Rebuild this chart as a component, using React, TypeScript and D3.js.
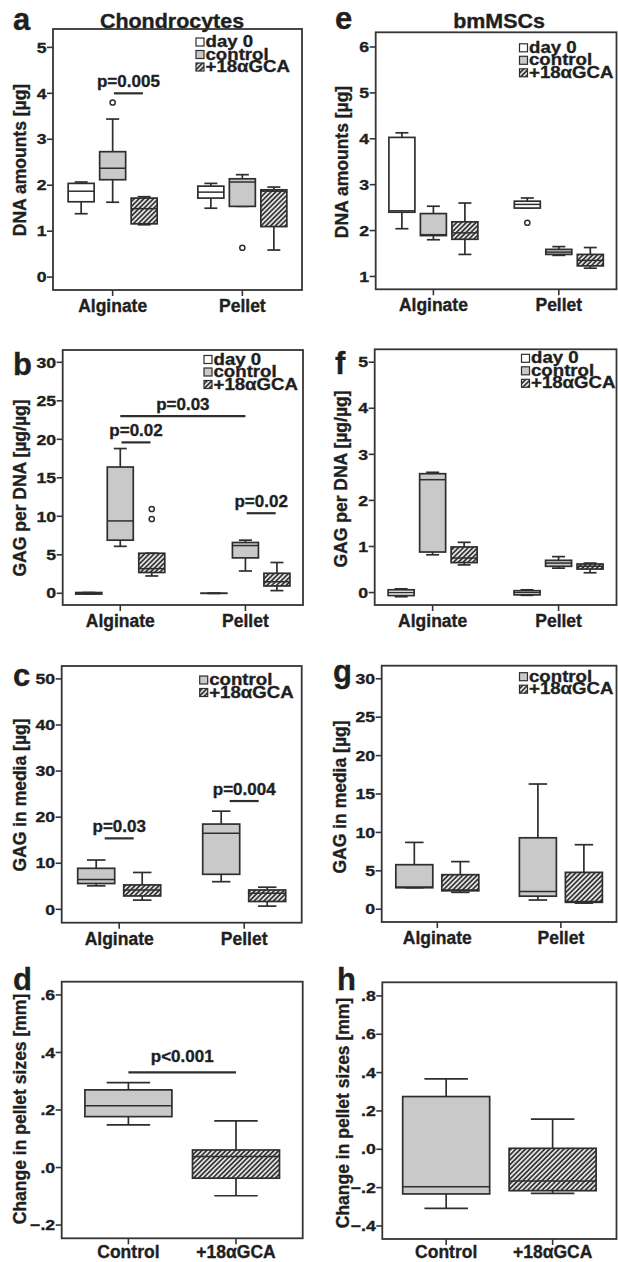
import React from "react";
import * as d3 from "d3";

const groups = ["Alginate", "Pellet"];
const conditions = ["Control", "+18αGCA"];
const series3 = ["day 0", "control", "+18αGCA"];
const series2 = ["control", "+18αGCA"];

// box stats: [lower whisker, q1, median, q3, upper whisker]
const dnaChondro = [
  { group: "Alginate", series: "day 0", stats: [1.38, 1.64, 1.87, 2.04, 2.07], out: [] },
  { group: "Alginate", series: "control", stats: [1.63, 2.12, 2.37, 2.73, 3.44], out: [3.8] },
  { group: "Alginate", series: "+18αGCA", stats: [1.14, 1.16, 1.49, 1.72, 1.75], out: [] },
  { group: "Pellet", series: "day 0", stats: [1.5, 1.72, 1.85, 1.98, 2.04], out: [] },
  { group: "Pellet", series: "control", stats: [1.54, 1.54, 2.07, 2.14, 2.23], out: [0.64] },
  { group: "Pellet", series: "+18αGCA", stats: [0.59, 1.1, 1.87, 1.9, 1.96], out: [] },
];

const gagDnaChondro = [
  { group: "Alginate", series: "day 0", stats: [-0.1, -0.1, 0, 0.1, 0.1], out: [] },
  { group: "Alginate", series: "control", stats: [6.1, 6.9, 9.4, 16.4, 18.8], out: [] },
  { group: "Alginate", series: "+18αGCA", stats: [2.25, 2.7, 3.2, 5.2, 5.2], out: [9.65, 10.95] },
  { group: "Pellet", series: "day 0", stats: [0, 0, 0, 0, 0], out: [] },
  { group: "Pellet", series: "control", stats: [2.9, 4.6, 6.2, 6.6, 6.9], out: [] },
  { group: "Pellet", series: "+18αGCA", stats: [0.35, 0.95, 1.5, 2.6, 4.0], out: [] },
];

const gagMediaChondro = [
  { group: "Alginate", series: "control", stats: [5.1, 5.6, 6.5, 8.9, 10.7], out: [] },
  { group: "Alginate", series: "+18αGCA", stats: [2.0, 2.9, 4.2, 5.3, 8.0], out: [] },
  { group: "Pellet", series: "control", stats: [6.0, 7.6, 16.5, 18.5, 21.3], out: [] },
  { group: "Pellet", series: "+18αGCA", stats: [0.7, 1.7, 3.5, 4.2, 4.8], out: [] },
];

const sizeChondro = [
  { group: "Control", series: null, stats: [0.148, 0.177, 0.215, 0.27, 0.295], out: [] },
  { group: "+18αGCA", series: null, stats: [-0.098, -0.037, 0.038, 0.061, 0.162], out: [] },
];

const dnaMsc = [
  { group: "Alginate", series: "day 0", stats: [2.04, 2.4, 2.43, 4.03, 4.13], out: [] },
  { group: "Alginate", series: "control", stats: [1.8, 1.89, 1.91, 2.37, 2.53], out: [] },
  { group: "Alginate", series: "+18αGCA", stats: [1.48, 1.81, 1.95, 2.19, 2.6], out: [] },
  { group: "Pellet", series: "day 0", stats: [2.49, 2.49, 2.57, 2.64, 2.71], out: [2.17] },
  { group: "Pellet", series: "control", stats: [1.46, 1.48, 1.53, 1.59, 1.65], out: [] },
  { group: "Pellet", series: "+18αGCA", stats: [1.18, 1.23, 1.35, 1.48, 1.63], out: [] },
];

const gagDnaMsc = [
  { group: "Alginate", series: "day 0", stats: [-0.09, -0.065, 0, 0.06, 0.08], out: [] },
  { group: "Alginate", series: "control", stats: [0.82, 0.88, 2.45, 2.58, 2.61], out: [] },
  { group: "Alginate", series: "+18αGCA", stats: [0.6, 0.65, 0.75, 0.99, 1.09], out: [] },
  { group: "Pellet", series: "day 0", stats: [-0.06, -0.05, 0, 0.04, 0.06], out: [] },
  { group: "Pellet", series: "control", stats: [0.53, 0.57, 0.64, 0.7, 0.78], out: [] },
  { group: "Pellet", series: "+18αGCA", stats: [0.43, 0.51, 0.57, 0.62, 0.64], out: [] },
];

const gagMediaMsc = [
  { group: "Alginate", series: "control", stats: [2.8, 2.8, 2.9, 5.8, 8.7], out: [] },
  { group: "Alginate", series: "+18αGCA", stats: [2.2, 2.4, 2.5, 4.5, 6.2], out: [] },
  { group: "Pellet", series: "control", stats: [1.2, 1.7, 2.3, 9.3, 16.3], out: [] },
  { group: "Pellet", series: "+18αGCA", stats: [0.8, 0.9, 1.0, 4.8, 8.4], out: [] },
];

const sizeMsc = [
  { group: "Control", series: null, stats: [-0.308, -0.233, -0.195, 0.275, 0.367], out: [] },
  { group: "+18αGCA", series: null, stats: [-0.23, -0.216, -0.165, 0.005, 0.157], out: [] },
];

const ticks0to5 = [0, 1, 2, 3, 4, 5];
const ticks0to30 = [0, 5, 10, 15, 20, 25, 30];
const ticks0to50 = [0, 10, 20, 30, 40, 50];
const ticks1to6 = [1, 2, 3, 4, 5, 6];
const ticksSizeChondro = [-0.2, 0, 0.2, 0.4, 0.6];
const ticksSizeMsc = [-0.4, -0.2, 0, 0.2, 0.4, 0.6, 0.8];

// significance bars
const sigDnaChondro = [
  { text: "p=0.005", from: ["Alginate", "control"], to: ["Alginate", "+18αGCA"], value: 4.0, kind: "short" },
];
const sigGagDnaChondro = [
  { text: "p=0.03", from: ["Alginate", null], to: ["Pellet", null], value: 23.0, kind: "long" },
  { text: "p=0.02", from: ["Alginate", "control"], to: ["Alginate", "+18αGCA"], value: 19.6, kind: "short" },
  { text: "p=0.02", from: ["Pellet", "control"], to: ["Pellet", "+18αGCA"], value: 10.4, kind: "short" },
];
const sigGagMediaChondro = [
  { text: "p=0.03", from: ["Alginate", "control"], to: ["Alginate", "+18αGCA"], value: 15.4, kind: "short" },
  { text: "p=0.004", from: ["Pellet", "control"], to: ["Pellet", "+18αGCA"], value: 23.5, kind: "short" },
];
const sigSizeChondro = [
  { text: "p<0.001", from: ["Control", null], to: ["+18αGCA", null], value: 0.331, kind: "long" },
];

const FONT = "'Liberation Sans', Arial, Helvetica, sans-serif";
const INK = "#1f1f1f";
const LINE = "#2e2e2e";
const GRAY = "#c9c9c9";

const panels = [
  { letter: "a", letterPos: [13, 29.5], data: dnaChondro, cats: groups, series: series3, frame: [53, 29, 302, 290], pad: 0.46, domain: [-0.28, 5.4], ticks: ticks0to5, yLabel: "DNA amounts [µg]", labelX: 26, labelCy: 160, legendDx: 106, legendDy: 18, sig: sigDnaChondro },
  { letter: "b", letterPos: [13, 375], data: gagDnaChondro, cats: groups, series: series3, frame: [62.7, 350, 303, 605], pad: 0.46, domain: [-1.52, 31.6], ticks: ticks0to30, yLabel: "GAG per DNA [µg/µg]", labelX: 25.5, labelCy: 488, legendDx: 99, legendDy: 14.5, sig: sigGagDnaChondro },
  { letter: "c", letterPos: [13, 686], data: gagMediaChondro, cats: groups, series: series2, frame: [61.7, 666, 301.7, 922.7], pad: 0.46, domain: [-2.9, 52.8], ticks: ticks0to50, yLabel: "GAG in media [µg]", labelX: 25.5, labelCy: 795, legendDx: 102, legendDy: 19, sig: sigGagMediaChondro },
  { letter: "d", letterPos: [13, 990], data: sizeChondro, cats: conditions, series: null, frame: [61.7, 981.7, 302.7, 1238.3], pad: 0.62, domain: [-0.246, 0.646], ticks: ticksSizeChondro, yLabel: "Change in pellet sizes [mm]", labelX: 25.5, labelCy: 1109, sig: sigSizeChondro, sigGap: 10, catGap: 19.5 },
  { letter: "e", letterPos: [335, 28.5], data: dnaMsc, cats: groups, series: series3, frame: [375.7, 32.3, 616.5, 289.3], pad: 0.46, domain: [0.72, 6.32], ticks: ticks1to6, yLabel: "DNA amounts [µg]", labelX: 348, labelCy: 162, legendDx: 97, legendDy: 20.5, sig: [] },
  { letter: "f", letterPos: [335, 373.5], data: gagDnaMsc, cats: groups, series: series3, frame: [374.7, 349.3, 616.5, 605], pad: 0.46, domain: [-0.27, 5.28], ticks: ticks0to5, yLabel: "GAG per DNA [µg/µg]", labelX: 347, labelCy: 479, legendDx: 95, legendDy: 14, sig: [] },
  { letter: "g", letterPos: [333, 682], data: gagMediaMsc, cats: groups, series: series2, frame: [381.7, 665.7, 616.5, 922], pad: 0.45, domain: [-1.66, 31.7], ticks: ticks0to30, yLabel: "GAG in media [µg]", labelX: 346, labelCy: 797, legendDx: 97, legendDy: 16, sig: [] },
  { letter: "h", letterPos: [337, 990], data: sizeMsc, cats: conditions, series: null, frame: [382.3, 982.3, 616.5, 1239], pad: 0.6, domain: [-0.468, 0.871], ticks: ticksSizeMsc, yLabel: "Change in pellet sizes  [mm]", labelX: 349, labelCy: 1113, sig: [], catGap: 18.5 },
];

const fillFor = (key) => {
  if (key === "day 0") return "#fff";
  if (key === "control" || key === "Control") return GRAY;
  return "url(#hatch)";
};

// ".6", ".0", "-.2" style labels for fractional axes
const fmtTick = (v) => {
  if (Number.isInteger(v) && v !== 0) return String(v);
  return d3.format(".1f")(v).replace("0.", ".");
};

function T({ x, y, size, sx = 1, anchor = "start", rotate = 0, children }) {
  return (
    <text
      transform={`translate(${x},${y}) rotate(${rotate}) scale(${sx},1)`}
      fontFamily={FONT}
      fontWeight="bold"
      fontSize={size}
      textAnchor={anchor}
      fill={INK}
      stroke={INK}
      strokeWidth={0.35}
    >
      {children}
    </text>
  );
}

function Panel({ p }) {
  const [x0, y0, x1, y1] = p.frame;
  const x = d3.scalePoint().domain(p.cats).range([x0, x1]).padding(p.pad);
  const spread = p.series && p.series.length === 3 ? 31.5 : 23;
  const s = d3.scalePoint().domain(p.series || [""]).range(p.series ? [-spread, spread] : [0, 0]);
  const bw = !p.series ? 87 : p.series.length === 3 ? 26 : 37;
  const y = d3.scaleLinear().domain(p.domain).range([y1, y0]);
  const isInt = p.ticks.every((t) => Number.isInteger(t));
  const cx = (g, ser) => x(g) + (ser ? s(ser) : 0);

  return (
    <g>
      {/* boxes */}
      {p.data.map((d, i) => {
        const c = cx(d.group, d.series);
        const [lo, q1, med, q3, hi] = d.stats;
        const cap = bw * 0.5;
        const key = d.series || d.group;
        return (
          <g key={i} stroke={LINE} strokeWidth={1.7}>
            <line x1={c} x2={c} y1={y(hi)} y2={y(q3)} />
            <line x1={c} x2={c} y1={y(q1)} y2={y(lo)} />
            <line x1={c - cap / 2} x2={c + cap / 2} y1={y(hi)} y2={y(hi)} />
            <line x1={c - cap / 2} x2={c + cap / 2} y1={y(lo)} y2={y(lo)} />
            <rect x={c - bw / 2} y={y(q3)} width={bw} height={Math.max(0.01, y(q1) - y(q3))} fill={fillFor(key)} />
            <line x1={c - bw / 2} x2={c + bw / 2} y1={y(med)} y2={y(med)} strokeWidth={1.5} />
            {d.out.map((o, j) => (
              <circle key={j} cx={c} cy={y(o)} r={2.6} fill="#fff" strokeWidth={1.5} />
            ))}
          </g>
        );
      })}

      {/* frame */}
      <rect x={x0} y={y0} width={x1 - x0} height={y1 - y0} fill="none" stroke="#353535" strokeWidth={1.8} />

      {/* y axis */}
      {p.ticks.map((t) => (
        <g key={t}>
          <line x1={x0 - 6} x2={x0} y1={y(t)} y2={y(t)} stroke="#353535" strokeWidth={1.6} />
          <T x={x0 - 6.5} y={y(t) + 5.2} size={15} sx={1.18} anchor="end">
            {isInt ? String(t) : fmtTick(t)}
          </T>
        </g>
      ))}
      <T x={p.labelX} y={p.labelCy} size={17.5} anchor="middle" rotate={-90}>
        {p.yLabel}
      </T>

      {/* x axis */}
      {p.cats.map((c) => (
        <g key={c}>
          <line x1={x(c)} x2={x(c)} y1={y1} y2={y1 + 6} stroke="#353535" strokeWidth={1.6} />
          <T x={x(c)} y={y1 + (p.catGap || 22)} size={17.5} anchor="middle">
            {c}
          </T>
        </g>
      ))}

      {/* significance */}
      {p.sig.map((b, i) => {
        const a = cx(b.from[0], b.from[1]);
        const e = cx(b.to[0], b.to[1]);
        const mid = (a + e) / 2;
        const xa = b.kind === "short" ? mid - 14.5 : a;
        const xe = b.kind === "short" ? mid + 14.5 : e;
        const yy = y(b.value);
        return (
          <g key={i}>
            <line x1={xa} x2={xe} y1={yy} y2={yy} stroke={LINE} strokeWidth={2.2} />
            <T x={mid} y={yy - (p.sigGap || 6)} size={17} anchor="middle">
              {b.text}
            </T>
          </g>
        );
      })}

      {/* legend */}
      {p.series &&
        p.series.map((ser, i) => {
          const lx = x1 - p.legendDx;
          const by = y0 + p.legendDy + i * 12.5;
          return (
            <g key={ser}>
              <rect x={lx} y={by - 9} width={8} height={8} fill={fillFor(ser)} stroke={LINE} strokeWidth={1.2} />
              <T x={lx + 9.5} y={by} size={16.5} sx={1.13}>
                {ser}
              </T>
            </g>
          );
        })}

      <T x={p.letterPos[0]} y={p.letterPos[1]} size={31}>
        {p.letter}
      </T>
    </g>
  );
}

export default function App() {
  return (
    <svg
      width={618}
      height={1262}
      style={{ position: "absolute", left: 0, top: 0, background: "#fff" }}
    >
      <defs>
        <pattern id="hatch" patternUnits="userSpaceOnUse" width={3.4} height={3.4} patternTransform="rotate(45)">
          <rect width={3.4} height={3.4} fill="#e2e2e2" />
          <line x1={0.9} x2={0.9} y1={0} y2={3.4} stroke="#2c2c2c" strokeWidth={1.6} />
        </pattern>
      </defs>
      <rect width={618} height={1262} fill="#fff" />
      <T x={172} y={28} size={19.5} sx={1.1} anchor="middle">
        Chondrocytes
      </T>
      <T x={499} y={27.5} size={19.5} sx={1.1} anchor="middle">
        bmMSCs
      </T>
      {panels.map((p) => (
        <Panel key={p.letter} p={p} />
      ))}
    </svg>
  );
}
